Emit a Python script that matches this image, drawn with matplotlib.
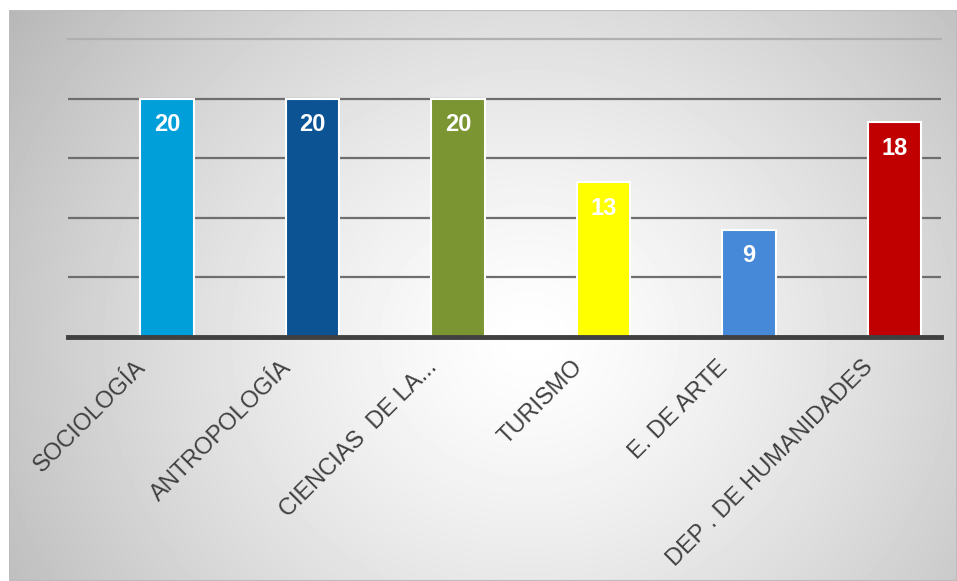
import numpy as np
import matplotlib.pyplot as plt
from matplotlib.patches import Rectangle
from matplotlib.transforms import ScaledTranslation

plt.rcParams['font.family'] = ['Liberation Sans', 'DejaVu Sans']

# Data
categories = ["SOCIOLOGÍA", "ANTROPOLOGÍA", "CIENCIAS  DE LA...", "TURISMO",
              "E. DE ARTE", "DEP . DE HUMANIDADES"]
values = [20, 20, 20, 13, 9, 18]
colors = ["#009FDA", "#0C5394", "#7A9532", "#FFFF00", "#4589D8", "#C00000"]

W, H = 957, 581
fig = plt.figure(figsize=(W / 100, H / 100), dpi=100)

# Radial gradient panel behind the chart
bg = fig.add_axes([9 / W, 0, (W - 9) / W, (H - 10) / H])
bw, bh = W - 9, H - 10
yy, xx = np.mgrid[0:bh, 0:bw]
cx, cy = 520, 330
d = np.hypot(xx - cx, (yy - cy) * 1.1) / 560.0
shade = 1.0 - 0.24 * np.clip(d, 0, 1.2) ** 1.3
bg.imshow(shade, cmap="gray", vmin=0, vmax=1, aspect="auto",
          extent=(0, bw, bh, 0), interpolation="bilinear")
bg.add_patch(Rectangle((0, 0), bw, bh, fill=False, edgecolor="#bdbdbd", lw=1.5))
bg.set_xlim(0, bw)
bg.set_ylim(bh, 0)
bg.axis("off")

ax = fig.add_axes([68 / W, 1 - 337 / H, (941 - 68) / W, (337 - 39) / H])
ax.patch.set_alpha(0)

x = np.arange(len(categories))
bars = ax.bar(x, values, width=0.37, color=colors, edgecolor="white",
              linewidth=1.5, zorder=3)

for b, v in zip(bars, values):
    ax.annotate(str(v), (b.get_x() + b.get_width() / 2, v),
                xytext=(0, -26), textcoords="offset pixels",
                ha="center", va="center", color="white",
                fontsize=17, fontweight="bold", zorder=4)

# bars sit a little right of the slot centres
ax.set_xlim(-0.68, len(categories) - 0.68)
ax.set_ylim(0, 25)

# Gridlines
for g in [5, 10, 15, 20]:
    ax.axhline(g, color="#6e6e6e", lw=1.6, zorder=1)
ax.axhline(25, color="#b0b0b0", lw=1.6, zorder=1, clip_on=False)
ax.axhline(0, color="#404040", lw=3.5, zorder=5, clip_on=False)

for s in ax.spines.values():
    s.set_visible(False)
ax.set_yticks([])
ax.set_xticks(x)
ax.set_xticklabels(categories, rotation=45, ha="right", rotation_mode="anchor",
                   fontsize=17, color="#404040")
ax.tick_params(axis="x", length=0, pad=14)
shift = ScaledTranslation(-0.32, 0, fig.dpi_scale_trans)
for lbl in ax.get_xticklabels():
    lbl.set_transform(lbl.get_transform() + shift)

fig.savefig("out.png", dpi=100)
